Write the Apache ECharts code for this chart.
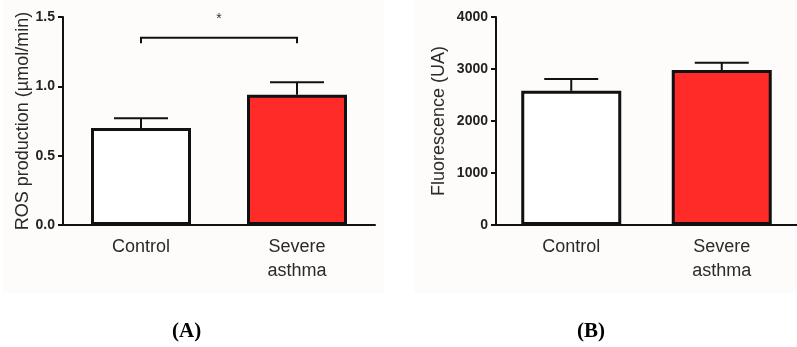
<!DOCTYPE html>
<html>
<head>
<meta charset="utf-8">
<script src="https://cdn.jsdelivr.net/npm/echarts@6/dist/echarts.min.js"></script>
<style>html,body{margin:0;padding:0;background:#fff}#c{width:797px;height:347px}</style>
</head>
<body>
<div id="c"></div>
<script>
// ---- data ----
var categories = ['Control', 'Severe\nasthma'];
var rosMean = [0.70, 0.94];
var rosErr = [0.07, 0.09];
var fluoMean = [2580, 2980];
var fluoErr = [230, 140];
var rosTicks = [0, 0.5, 1.0, 1.5];
var fluoTicks = [0, 1000, 2000, 3000, 4000];
var sigPair = [0, 1];
var sigLevel = [1.35, 1.31];
var sigLabel = '*';
var panelLabels = ['(A)', '(B)'];
var barColors = ['#ffffff', '#fe2b28'];

var chart = echarts.init(document.getElementById('c'), null, {renderer: 'canvas'});

function errRender(errArr, valArr) {
  return function (params, api) {
    var i = api.value(0);
    var top = api.coord([i, valArr[i] + errArr[i]]);
    var base = api.coord([i, valArr[i]]);
    var hw = 27;
    return {
      type: 'group',
      children: [
        {type: 'line', shape: {x1: base[0], y1: base[1], x2: top[0], y2: top[1]}, style: {stroke: '#111', lineWidth: 2}},
        {type: 'line', shape: {x1: top[0] - hw, y1: top[1], x2: top[0] + hw, y2: top[1]}, style: {stroke: '#111', lineWidth: 2}}
      ]
    };
  };
}

function xAxis(idx) {
  return {
    type: 'category', gridIndex: idx, data: categories, boundaryGap: true,
    axisLine: {lineStyle: {color: '#111', width: 2}},
    axisTick: {alignWithLabel: true, length: 6, lineStyle: {color: '#111', width: 2}},
    axisLabel: {color: '#2a2a2a', fontSize: 18, fontFamily: 'Liberation Sans, Arial', margin: 10, lineHeight: 24}
  };
}
function yAxis(idx, max, interval, name, gap, dec) {
  return {
    type: 'value', gridIndex: idx, min: 0, max: max, interval: interval,
    name: name, nameLocation: 'middle', nameGap: gap, nameRotate: 90,
    nameTextStyle: {color: '#2a2a2a', fontSize: 18, fontFamily: 'Liberation Sans, Arial'},
    splitLine: {show: false},
    axisLine: {show: true, lineStyle: {color: '#111', width: 2}},
    axisTick: {show: true, length: 5, lineStyle: {color: '#111', width: 2}},
    axisLabel: {color: '#222', fontSize: 14, fontWeight: 'bold', fontFamily: 'Liberation Sans, Arial', margin: 8,
      formatter: function (v) { return dec ? v.toFixed(1) : String(v); }}
  };
}

var option = {
  animation: false,
  backgroundColor: '#ffffff',
  graphic: [
    {type: 'rect', z: -10, shape: {x: 3, y: 0, width: 381, height: 293}, style: {fill: '#fdfcfa'}, silent: true},
    {type: 'rect', z: -10, shape: {x: 414, y: 0, width: 383, height: 293}, style: {fill: '#fdfcfa'}, silent: true},
    {type: 'text', left: 172, top: 321, style: {text: panelLabels[0], font: 'bold 21px "Liberation Serif", "Times New Roman", serif', fill: '#000'}},
    {type: 'text', left: 577, top: 321, style: {text: panelLabels[1], font: 'bold 21px "Liberation Serif", "Times New Roman", serif', fill: '#000'}}
  ],
  grid: [
    {left: 63, top: 17, width: 312, height: 208},
    {left: 496, top: 17, width: 310, height: 208}
  ],
  xAxis: [xAxis(0), xAxis(1)],
  yAxis: [
    yAxis(0, rosTicks[rosTicks.length - 1], rosTicks[1] - rosTicks[0], 'ROS production (µmol/min)', 30, true),
    yAxis(1, fluoTicks[fluoTicks.length - 1], fluoTicks[1] - fluoTicks[0], 'Fluorescence (UA)', 48, false)
  ],
  series: [
    {type: 'bar', xAxisIndex: 0, yAxisIndex: 0, barWidth: 100,
      data: rosMean.map(function (v, i) { return {value: v, itemStyle: {color: barColors[i]}}; }),
      itemStyle: {borderColor: '#111', borderWidth: 3}, z: 2},
    {type: 'custom', xAxisIndex: 0, yAxisIndex: 0, renderItem: errRender(rosErr, rosMean),
      data: rosMean.map(function (v, i) { return [i, v]; }), z: 3},
    {type: 'bar', xAxisIndex: 1, yAxisIndex: 1, barWidth: 100,
      data: fluoMean.map(function (v, i) { return {value: v, itemStyle: {color: barColors[i]}}; }),
      itemStyle: {borderColor: '#111', borderWidth: 3}, z: 2},
    {type: 'custom', xAxisIndex: 1, yAxisIndex: 1, renderItem: errRender(fluoErr, fluoMean),
      data: fluoMean.map(function (v, i) { return [i, v]; }), z: 3},
    {type: 'custom', xAxisIndex: 0, yAxisIndex: 0, z: 4,
      data: [[sigPair[0], sigPair[1], sigLevel[0], sigLevel[1]]],
      renderItem: function (params, api) {
        var a = api.coord([api.value(0), api.value(2)]);
        var b = api.coord([api.value(1), api.value(2)]);
        var a2 = api.coord([api.value(0), api.value(3)]);
        var b2 = api.coord([api.value(1), api.value(3)]);
        return {
          type: 'group',
          children: [
            {type: 'polyline', shape: {points: [a2, a, b, b2]}, style: {stroke: '#111', lineWidth: 2, fill: null}},
            {type: 'text', style: {text: sigLabel, x: (a[0] + b[0]) / 2, y: a[1] - 19, align: 'center', verticalAlign: 'middle',
              font: '14px "Liberation Sans", Arial', fill: '#333'}}
          ]
        };
      }}
  ]
};
chart.setOption(option);
</script>
</body>
</html>
